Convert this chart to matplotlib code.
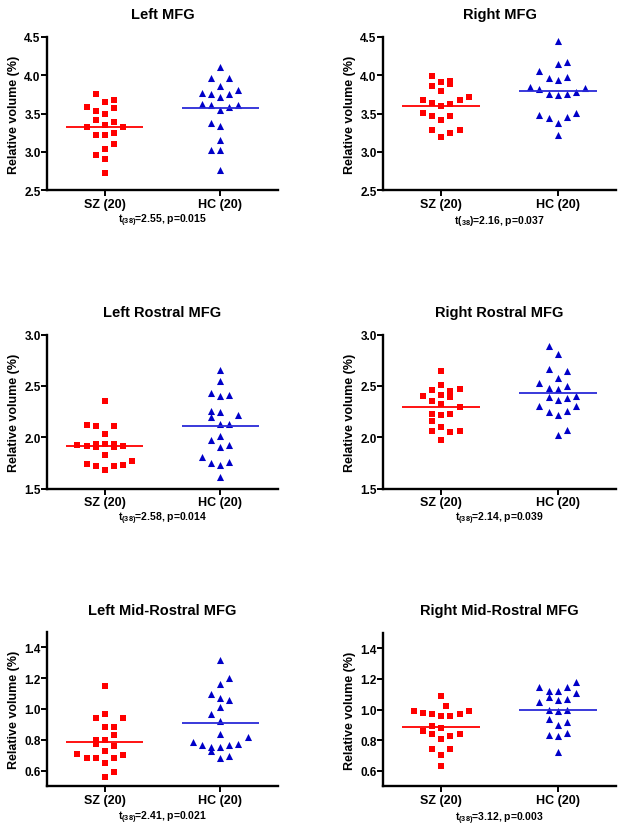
import matplotlib
matplotlib.use("Agg")
import matplotlib.pyplot as plt
import numpy as np

plt.rcParams['font.family'] = ['Liberation Sans', 'DejaVu Sans']
plt.rcParams['font.weight'] = 'bold'
plt.rcParams['mathtext.fontset'] = 'custom'
plt.rcParams['mathtext.rm'] = 'Liberation Sans:bold'
plt.rcParams['mathtext.it'] = 'Liberation Sans:bold'
plt.rcParams['mathtext.bf'] = 'Liberation Sans:bold'

# ---------------- data ----------------
groups = ["SZ (20)", "HC (20)"]
titles = ["Left MFG", "Right MFG", "Left Rostral MFG", "Right Rostral MFG",
          "Left Mid-Rostral MFG", "Right Mid-Rostral MFG"]
t_values = ["2.55", "2.16", "2.58", "2.14", "2.41", "3.12"]
p_values = ["0.015", "0.037", "0.014", "0.039", "0.021", "0.003"]
ylims = [(2.5, 4.5), (2.5, 4.5), (1.5, 3.0), (1.5, 3.0), (0.5, 1.5), (0.5, 1.5)]
yticks = [[2.5, 3.0, 3.5, 4.0, 4.5], [2.5, 3.0, 3.5, 4.0, 4.5],
          [1.5, 2.0, 2.5, 3.0], [1.5, 2.0, 2.5, 3.0],
          [0.6, 0.8, 1.0, 1.2, 1.4], [0.6, 0.8, 1.0, 1.2, 1.4]]

lmfg_sz = [3.75, 3.65, 3.68, 3.59, 3.57, 3.53, 3.50, 3.42, 3.39, 3.35,
           3.32, 3.32, 3.22, 3.22, 3.24, 3.10, 3.04, 2.96, 2.91, 2.72]
lmfg_sz_slot = [-1, 0, 1, -2, 1, -1, 0, -1, 1, 0, -2, 2, -1, 0, 1, 1, 0, -1, 0, 0]
lmfg_hc = [4.11, 3.96, 3.96, 3.86, 3.77, 3.75, 3.72, 3.75, 3.81, 3.63,
           3.61, 3.55, 3.58, 3.61, 3.37, 3.34, 3.16, 3.03, 3.03, 2.77]
lmfg_hc_slot = [0, -1, 1, 0, -2, -1, 0, 1, 2, -2, -1, 0, 1, 2, -1, 0, 0, -1, 0, 0]

rmfg_sz = [3.99, 3.91, 3.92, 3.89, 3.86, 3.79, 3.68, 3.64, 3.60, 3.62,
           3.68, 3.72, 3.51, 3.47, 3.42, 3.47, 3.28, 3.20, 3.24, 3.28]
rmfg_sz_slot = [-1, 0, 1, 1, -1, 0, -2, -1, 0, 1, 2, 3, -2, -1, 0, 1, -1, 0, 1, 2]
rmfg_hc = [4.44, 4.15, 4.17, 4.05, 3.96, 3.94, 3.98, 3.85, 3.82, 3.76,
           3.74, 3.76, 3.78, 3.83, 3.48, 3.44, 3.38, 3.46, 3.51, 3.22]
rmfg_hc_slot = [0, 0, 1, -2, -1, 0, 1, -3, -2, -1, 0, 1, 2, 3, -2, -1, 0, 1, 2, 0]

lrmfg_sz = [2.35, 2.12, 2.11, 2.11, 2.03, 1.92, 1.91, 1.93, 1.90, 1.93,
            1.93, 1.905, 1.91, 1.83, 1.74, 1.72, 1.68, 1.72, 1.73, 1.77]
lrmfg_sz_slot = [0, -2, -1, 1, 0, -3, -2, -1, -1, 0, 1, 1, 2, 0, -2, -1, 0, 1, 2, 3]
lrmfg_hc = [2.66, 2.55, 2.43, 2.40, 2.41, 2.26, 2.20, 2.25, 2.22, 2.13,
            2.13, 1.97, 2.01, 1.90, 1.92, 1.81, 1.75, 1.73, 1.76, 1.61]
lrmfg_hc_slot = [0, 0, -1, 0, 1, -1, -1, 0, 2, 0, 1, -1, 0, 0, 1, -2, -1, 0, 1, 0]

rrmfg_sz = [2.65, 2.46, 2.51, 2.45, 2.47, 2.40, 2.35, 2.41, 2.39, 2.32,
            2.29, 2.23, 2.22, 2.23, 2.155, 2.10, 2.06, 2.05, 2.06, 1.97]
rrmfg_sz_slot = [0, -1, 0, 1, 2, -2, -1, 0, 1, 0, 2, -1, 0, 1, -1, 0, -1, 1, 2, 0]
rrmfg_hc = [2.89, 2.815, 2.67, 2.65, 2.58, 2.53, 2.48, 2.47, 2.50, 2.39,
            2.36, 2.38, 2.40, 2.30, 2.25, 2.22, 2.26, 2.30, 2.02, 2.07]
rrmfg_hc_slot = [-1, 0, -1, 1, 0, -2, -1, 0, 1, -1, 0, 1, 2, -2, -1, 0, 1, 2, 0, 1]

lmr_sz = [1.15, 0.94, 0.97, 0.94, 0.88, 0.88, 0.83, 0.80, 0.77, 0.80,
          0.76, 0.73, 0.71, 0.68, 0.68, 0.68, 0.70, 0.65, 0.56, 0.59]
lmr_sz_slot = [0, -1, 0, 2, 0, 1, 1, -1, -1, 0, 1, 0, -3, -2, -1, 1, 2, 0, 0, 1]
lmr_hc = [1.32, 1.20, 1.16, 1.10, 1.07, 1.06, 1.01, 0.965, 0.92, 0.84,
          0.785, 0.765, 0.755, 0.725, 0.755, 0.765, 0.775, 0.815, 0.685, 0.695]
lmr_hc_slot = [0, 1, 0, -1, 0, 1, 0, -1, 0, 0, -3, -2, -1, -1, 0, 1, 2, 3, 0, 1]

rmr_sz = [1.09, 1.02, 0.99, 0.98, 0.97, 0.96, 0.96, 0.97, 0.99, 0.89,
          0.88, 0.86, 0.84, 0.81, 0.83, 0.84, 0.74, 0.74, 0.70, 0.63]
rmr_sz_slot = [0, 0.5, -3, -2, -1, 0, 1, 2, 3, -1, 0, -2, -1, 0, 1, 2, -1, 1, 0, 0]
rmr_hc = [1.15, 1.12, 1.12, 1.15, 1.18, 1.05, 1.08, 1.06, 1.07, 1.11,
          1.00, 0.99, 1.00, 0.94, 0.90, 0.92, 0.835, 0.825, 0.845, 0.72]
rmr_hc_slot = [-2, -1, 0, 1, 2, -2, -1, 0, 1, 2, -1, 0, 1, -1, 0, 1, -1, 0, 1, 0]

means_sz = [3.32, 3.60, 1.91, 2.29, 0.785, 0.885]
means_hc = [3.57, 3.79, 2.11, 2.43, 0.91, 1.00]

sz_values = [lmfg_sz, rmfg_sz, lrmfg_sz, rrmfg_sz, lmr_sz, rmr_sz]
sz_slots = [lmfg_sz_slot, rmfg_sz_slot, lrmfg_sz_slot, rrmfg_sz_slot, lmr_sz_slot, rmr_sz_slot]
hc_values = [lmfg_hc, rmfg_hc, lrmfg_hc, rrmfg_hc, lmr_hc, rmr_hc]
hc_slots = [lmfg_hc_slot, rmfg_hc_slot, lrmfg_hc_slot, rrmfg_hc_slot, lmr_hc_slot, rmr_hc_slot]

# ---------------- layout / style ----------------
W, H = 628, 829
# axes boxes in pixels: left, right, top, bottom
boxes = [(47, 278, 37.7, 191.3), (383, 616, 37.7, 191.3),
         (47, 278, 335.7, 489.5), (383, 616, 335.7, 489.5),
         (47, 278, 633, 787), (383, 616, 634, 787)]
title_y = [15, 15, 313, 313, 611, 611.5]
stat_base = [223.5, 223.5, 521.5, 521.5, 820.5, 821]
slot_w = 0.079
red = '#ff0000'
blue = '#0000c8'
blue_line = '#2a2ad8'

fig = plt.figure(figsize=(W / 100, H / 100), dpi=100)

for i in range(6):
    l, r, t, b = boxes[i]
    ax = fig.add_axes([l / W, 1 - b / H, (r - l) / W, (b - t) / H])
    xs_sz = 1 + slot_w * np.array(sz_slots[i], dtype=float)
    xs_hc = 2 + slot_w * np.array(hc_slots[i], dtype=float)
    ax.scatter(xs_sz, sz_values[i], marker='s', s=22, color=red, linewidths=0, zorder=3)
    ax.scatter(xs_hc, hc_values[i], marker='^', s=26, color=blue, linewidths=0, zorder=3)
    ax.hlines(means_sz[i], 1 - 0.333, 1 + 0.333, color=red, lw=1.3, zorder=4)
    ax.hlines(means_hc[i], 2 - 0.333, 2 + 0.333, color=blue_line, lw=1.3, zorder=4)
    ax.set_xlim(0.5, 2.5)
    ax.set_ylim(*ylims[i])
    ax.set_yticks(yticks[i])
    ax.set_yticklabels([f"{v:.1f}" for v in yticks[i]])
    ax.set_xticks([1, 2])
    ax.set_xticklabels(groups)
    for side in ['top', 'right']:
        ax.spines[side].set_visible(False)
    for side in ['left', 'bottom']:
        ax.spines[side].set_linewidth(1.7)
    ax.tick_params(axis='both', direction='out', length=4, width=1.4, labelsize=8.5)
    ax.tick_params(axis='y', pad=0.5)
    ax.tick_params(axis='x', pad=1.5, labelsize=9)
    ax.set_ylabel("Relative volume (%)", fontsize=9, fontweight='bold', labelpad=3)
    cx = (l + r) / 2 / W
    fig.text(cx, 1 - title_y[i] / H, titles[i], ha='center', va='center',
             fontsize=10.5, fontweight='bold')
    if i == 1:
        st = r"$\mathrm{t(}_{\mathrm{38}}\mathrm{)}$=" + t_values[i] + ", p=" + p_values[i]
    else:
        st = r"$\mathrm{t}_{\mathrm{(38)}}$=" + t_values[i] + ", p=" + p_values[i]
    fig.text(cx, 1 - stat_base[i] / H, st, ha='center', va='baseline',
             fontsize=7.5, fontweight='bold')

fig.savefig("out.png", dpi=100)
